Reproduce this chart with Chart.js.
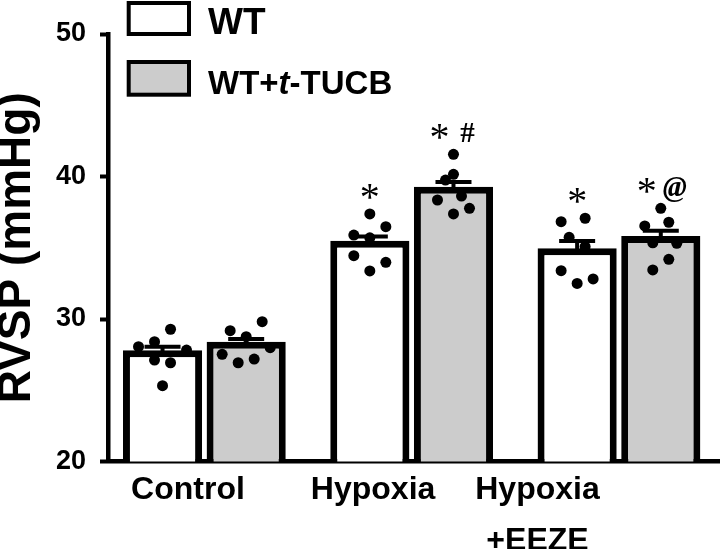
<!DOCTYPE html>
<html>
<head>
<meta charset="utf-8">
<script src="https://cdn.jsdelivr.net/npm/chart.js@4"></script>
<style>
    html, body { margin: 0; padding: 0; background: #fff; overflow: hidden; }
</style>
</head>
<body>
<canvas id="rvspChart" width="720" height="549"></canvas>
<script>
// data
const groups = ['Control', 'Hypoxia', ['Hypoxia', '+EEZE']];
const seriesNames = ['WT', 'WT+t-TUCB'];
const wtMean = [27.8, 35.5, 34.96];
const tucbMean = [28.41, 39.28, 35.82];
const wtSem = [0.25, 0.29, 0.51];
const tucbSem = [0.19, 0.33, 0.38];
const wtDots = [
    [28.06, 28.41, 29.28, 27.82, 27.12, 26.93, 25.32],
    [37.37, 36.48, 35.89, 35.7, 34.44, 33.98, 33.37],
    [36.83, 37.07, 35.73, 35.07, 33.39, 32.5, 32.81]
];
const tucbDots = [
    [29.18, 28.76, 29.81, 27.52, 26.93, 27.19, 27.99],
    [41.56, 40.15, 39.75, 38.35, 38.63, 37.77, 37.37],
    [37.77, 36.53, 36.79, 35.35, 35.31, 34.19, 33.44]
];
const wtMarks = [[], ['*'], ['*']];
const tucbMarks = [[], ['*', '#'], ['*', '@']];
const yMin = 20, yMax = 50, yStep = 10;

// layout / style
const catPct = 0.807;
const barPct = 0.946;
const xMin = -0.4648, xMax = 2.4874;
const labelShift = [-0.079, -0.186, -0.393];
const jitterStep = 0.0386;
const wtJitter = [[-3, -1, 1, 3, -1, 1, 0], [0, 2, -2, 0, -2, 2, 0], [-2, 1, -1, 1, -2, 0, 2]];
const tucbJitter = [[-2, 0, 2, -3, -1, 1, 3], [0, 0, -1, -2, 1, 2, 0], [0, -2, 1, -1, 2, 1, -1]];
const sans = "'Liberation Sans', Arial, sans-serif";
const serif = "'Liberation Serif', 'Times New Roman', serif";

function dotPoints(dots, jitter, side) {
    let pts = [];
    dots.forEach(function (vals, i) {
        vals.forEach(function (v, k) {
            pts.push({ x: i + side * catPct / 4 + jitter[i][k] * jitterStep, y: v });
        });
    });
    return pts;
}

function barPoints(means) {
    return means.map(function (v, i) { return { x: i, y: v }; });
}

// error bars drawn right after each bar dataset
const errorBars = {
    id: 'errorBars',
    afterDatasetDraw(chart, args) {
        if (args.meta.type !== 'bar') return;
        const ds = chart.data.datasets[args.index];
        const y = chart.scales.y;
        const ctx = chart.ctx;
        ctx.save();
        ctx.strokeStyle = '#000';
        ctx.lineWidth = 4;
        args.meta.data.forEach(function (bar, i) {
            const top = y.getPixelForValue(ds.means[i] + ds.sem[i]);
            ctx.beginPath();
            ctx.moveTo(bar.x, bar.y + 4);
            ctx.lineTo(bar.x, top);
            ctx.moveTo(bar.x - 18, top);
            ctx.lineTo(bar.x + 18, top);
            ctx.stroke();
        });
        ctx.restore();
    }
};

// significance symbols above the highest dot of each bar
const symbolStyle = {
    '*': { font: 'normal 40px ' + serif, rise: 18 },
    '#': { font: 'bold 29px ' + serif, rise: 10 },
    '@': { font: 'bold italic 29px ' + serif, rise: 10 }
};
const sigMarks = {
    id: 'sigMarks',
    afterDraw(chart) {
        const ctx = chart.ctx;
        const y = chart.scales.y;
        ctx.save();
        ctx.fillStyle = '#000';
        ctx.textAlign = 'center';
        ctx.textBaseline = 'alphabetic';
        chart.data.datasets.forEach(function (ds, di) {
            if (!ds.marks) return;
            const meta = chart.getDatasetMeta(di);
            meta.data.forEach(function (bar, i) {
                const list = ds.marks[i];
                if (!list.length) return;
                const cy = y.getPixelForValue(Math.max.apply(null, ds.dots[i])) - 22;
                list.forEach(function (s, k) {
                    const st = symbolStyle[s];
                    ctx.font = st.font;
                    ctx.fillText(s, bar.x + (k - (list.length - 1) / 2) * 28, cy + st.rise);
                });
            });
        });
        ctx.restore();
    }
};

// legend stacked in the top-left, with italic "t"
const boxLegend = {
    id: 'boxLegend',
    afterDraw(chart) {
        const ctx = chart.ctx;
        const rows = [
            { top: 1, h: 35, base: 34, size: 37 },
            { top: 60, h: 36.7, base: 94, size: 33 }
        ];
        ctx.save();
        chart.data.datasets.forEach(function (ds, di) {
            if (ds.type === 'scatter') return;
            const r = rows[di];
            ctx.fillStyle = ds.backgroundColor;
            ctx.fillRect(128.7, r.top + 2, 60.3, r.h - 4);
            ctx.strokeStyle = '#000';
            ctx.lineWidth = 4;
            ctx.strokeRect(128.7, r.top + 2, 60.3, r.h - 4);
            let x = 208;
            ctx.fillStyle = '#000';
            ctx.textBaseline = 'alphabetic';
            ctx.textAlign = 'left';
            ds.label.split(/(t(?=-))/).forEach(function (part, k) {
                ctx.font = (k % 2 ? 'italic bold ' : 'bold ') + r.size + 'px ' + sans;
                ctx.fillText(part, x, r.base);
                x += ctx.measureText(part).width;
            });
        });
        ctx.restore();
    }
};

const ctx = document.getElementById('rvspChart').getContext('2d');
const chart = new Chart(ctx, {
    type: 'bar',
    data: {
        datasets: [
            {
                label: seriesNames[0],
                data: barPoints(wtMean),
                means: wtMean, sem: wtSem, dots: wtDots, marks: wtMarks,
                backgroundColor: '#ffffff', borderColor: '#000', borderWidth: 7,
                borderSkipped: false, categoryPercentage: catPct, barPercentage: barPct,
                xAxisID: 'x', yAxisID: 'y', order: 2
            },
            {
                label: seriesNames[1],
                data: barPoints(tucbMean),
                means: tucbMean, sem: tucbSem, dots: tucbDots, marks: tucbMarks,
                backgroundColor: '#cccccc', borderColor: '#000', borderWidth: 7,
                borderSkipped: false, categoryPercentage: catPct, barPercentage: barPct,
                xAxisID: 'x', yAxisID: 'y', order: 2
            },
            {
                type: 'scatter',
                label: 'dots',
                data: dotPoints(wtDots, wtJitter, -1).concat(dotPoints(tucbDots, tucbJitter, 1)),
                pointRadius: 5.5, pointBackgroundColor: '#000', pointBorderWidth: 0,
                xAxisID: 'x', yAxisID: 'y', order: 1
            }
        ]
    },
    options: {
        responsive: false,
        animation: false,
        devicePixelRatio: 1,
        layout: { autoPadding: false, padding: { top: 34, left: 0, right: 0, bottom: 0 } },
        plugins: { legend: { display: false }, tooltip: { enabled: false } },
        scales: {
            x: {
                type: 'linear', display: false, offset: false,
                min: xMin, max: xMax,
                afterBuildTicks: function (scale) {
                    scale.ticks = groups.map(function (g, i) { return { value: i }; });
                }
            },
            x2: {
                type: 'linear', axis: 'x', position: 'bottom', offset: false,
                min: xMin, max: xMax,
                afterBuildTicks: function (scale) {
                    scale.ticks = groups.map(function (g, i) { return { value: i + labelShift[i] }; });
                },
                afterFit: function (scale) { scale.height = 87.5; },
                grid: { drawOnChartArea: false, drawTicks: false },
                border: { color: '#000', width: 4.5 },
                ticks: {
                    autoSkip: false, maxRotation: 0, padding: 3, color: '#000',
                    font: { family: sans, size: 32, weight: 'bold', lineHeight: 1.6 },
                    callback: function (v, i) { return groups[i]; }
                }
            },
            y: {
                min: yMin, max: yMax,
                afterFit: function (scale) { scale.width = 108; },
                grid: { drawOnChartArea: false, tickLength: 8, tickWidth: 4, tickColor: '#000' },
                border: { color: '#000', width: 4.5 },
                ticks: {
                    stepSize: yStep, padding: 14, color: '#000',
                    font: { family: sans, size: 27, weight: 'bold' }
                },
                title: {
                    display: true, text: 'RVSP (mmHg)', color: '#000', padding: 0,
                    font: { family: sans, size: 46, weight: 'bold', lineHeight: 0.74 }
                }
            }
        }
    },
    plugins: [errorBars, sigMarks, boxLegend]
});
</script>
</body>
</html>
